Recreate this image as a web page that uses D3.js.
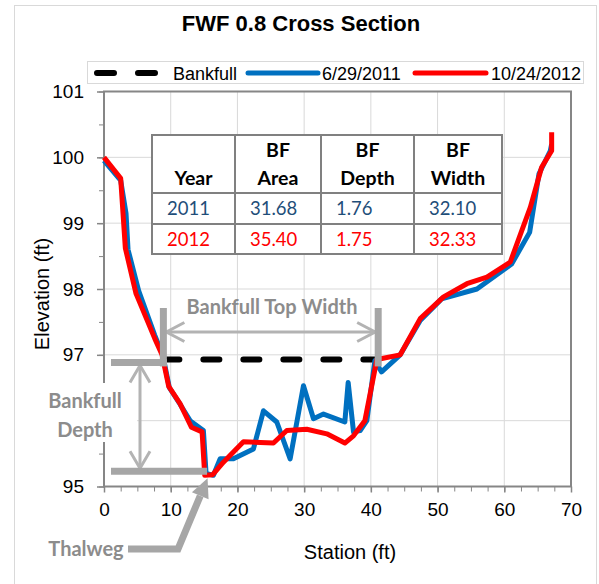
<!DOCTYPE html>
<html>
<head>
<meta charset="utf-8">
<script src="https://cdn.jsdelivr.net/npm/d3@7"></script>
<style>
  body { margin: 0; background: #fff; }
  svg { display: block; }
</style>
</head>
<body>
<svg id="chart" width="599" height="584"></svg>
<script>
// Survey of 6/29/2011
const stations2011 = [0, 2.5, 3.3, 3.6, 5.2, 7.6, 8.8, 9.8, 11.4, 12.9, 14.9, 15.3, 16.4, 17.4, 19.4, 22.4, 23.9, 25.9, 27.9, 29.9, 31.4, 32.9, 36.1, 36.6, 37.4, 38.4, 39.4, 40.6, 41.6, 44.4, 47.4, 50.6, 55.9, 61.1, 63.8, 65.2, 66.9, 67.1];
const elev2011     = [99.95, 99.65, 99.15, 98.6, 97.97, 97.3, 97.0, 96.5, 96.25, 96.0, 95.85, 95.2, 95.17, 95.42, 95.42, 95.57, 96.15, 95.98, 95.42, 96.53, 96.03, 96.1, 95.98, 96.58, 95.83, 95.85, 96.0, 96.91, 96.74, 97.0, 97.52, 97.85, 98.0, 98.38, 98.86, 99.75, 100.1, 100.2];

// Survey of 10/24/2012
const stations2012 = [0, 2.5, 3.2, 4.8, 7.6, 8.7, 9.7, 11.4, 13.1, 14.7, 15.1, 16.3, 17.9, 20.9, 25.4, 27.4, 30.4, 33.4, 36.1, 37.4, 39.1, 40.9, 44.4, 47.4, 50.9, 54.4, 57.4, 60.9, 63.9, 65.6, 67.1, 67.1];
const elev2012     = [100.0, 99.68, 98.62, 97.93, 97.25, 97.0, 96.52, 96.26, 95.9, 95.83, 95.17, 95.18, 95.37, 95.68, 95.66, 95.85, 95.87, 95.8, 95.66, 95.77, 96.0, 96.93, 97.0, 97.55, 97.88, 98.08, 98.18, 98.41, 99.24, 99.85, 100.1, 100.38];

// Bankfull stage and thalweg
const bankfullStations = [8.9, 41.1];
const bankfullElevation = 96.93;
const thalwegStation = 15.6;
const thalwegElevation = 95.17;

// Axes (the 96 label sits under the "Bankfull Depth" label box)
const xTicks = [0, 10, 20, 30, 40, 50, 60, 70];
const xTickLabels = ["0", "10", "20", "30", "40", "50", "60", "70"];
const yTicks = [95, 96, 97, 98, 99, 100, 101];
const yTickLabels = ["95", "", "97", "98", "99", "100", "101"];

// Summary table
const tableHeadTop = ["", "BF", "BF", "BF"];
const tableHeadBottom = ["Year", "Area", "Depth", "Width"];
const tableYears = ["2011", "2012"];
const tableArea = ["31.68", "35.40"];
const tableDepth = ["1.76", "1.75"];
const tableWidth = ["32.10", "32.33"];

// Legend
const legendLabels = ["Bankfull", "6/29/2011", "10/24/2012"];

const BLUE = "#0070C0", RED = "#FF0000", AXIS = "#868686", GRID = "#D9D9D9";
const ANNO = "#A6A6A6", ANNO_TEXT = "#8C8C8C", ARROW = "#B3B3B3";

const svg = d3.select("#chart");
const x = d3.scaleLinear().domain([0, 70]).range([104, 571]);
const y = d3.scaleLinear().domain([95, 101]).range([486.5, 91.5]);

// outer chart frame
svg.append("rect").attr("x", 14.5).attr("y", 5.5).attr("width", 582).attr("height", 600)
  .attr("fill", "#fff").attr("stroke", GRID).attr("stroke-width", 1);

// title
svg.append("text").attr("x", 301).attr("y", 31).attr("text-anchor", "middle")
  .attr("font-family", "Liberation Sans, Arial, sans-serif").attr("font-weight", "bold")
  .attr("font-size", 22).text("FWF 0.8 Cross Section");

// gridlines
const grid = svg.append("g");
grid.selectAll(".gx").data(xTicks.slice(1, -1)).join("line")
  .attr("x1", d => x(d)).attr("x2", d => x(d)).attr("y1", y(101)).attr("y2", y(95))
  .attr("stroke", GRID).attr("stroke-width", 1);
grid.selectAll(".gy").data(yTicks.slice(1, -1)).join("line")
  .attr("x1", x(0)).attr("x2", x(70)).attr("y1", d => y(d)).attr("y2", d => y(d))
  .attr("stroke", GRID).attr("stroke-width", 1);

// axes
const tickFont = g => g.selectAll("text")
  .attr("font-family", "Liberation Sans, Arial, sans-serif").attr("font-size", 19).attr("fill", "#000");

const xMinor = d3.range(0, 70.01, 2.5);
svg.append("g").attr("transform", `translate(0,${y(95)})`)
  .call(d3.axisBottom(x).tickValues(xMinor).tickSize(5).tickFormat(""))
  .call(g => g.select(".domain").remove())
  .call(g => g.selectAll("line").attr("stroke", AXIS).attr("stroke-width", 1));
svg.append("g").attr("transform", `translate(0,${y(95)})`)
  .call(d3.axisBottom(x).tickValues(xTicks).tickSize(6).tickPadding(10)
    .tickFormat((d, i) => xTickLabels[i]))
  .call(g => g.select(".domain").remove())
  .call(g => g.selectAll("line").attr("stroke", AXIS).attr("stroke-width", 1.5))
  .call(tickFont);

const yMinor = d3.range(95, 101.01, 0.5);
svg.append("g").attr("transform", `translate(${x(0)},0)`)
  .call(d3.axisLeft(y).tickValues(yMinor).tickSize(5).tickFormat(""))
  .call(g => g.select(".domain").remove())
  .call(g => g.selectAll("line").attr("stroke", AXIS).attr("stroke-width", 1));
svg.append("g").attr("transform", `translate(${x(0)},0)`)
  .call(d3.axisLeft(y).tickValues(yTicks).tickSize(7).tickPadding(13)
    .tickFormat((d, i) => yTickLabels[i]))
  .call(g => g.select(".domain").remove())
  .call(g => g.selectAll("line").attr("stroke", AXIS).attr("stroke-width", 1.5))
  .call(tickFont);

// plot frame
svg.append("rect").attr("x", x(0)).attr("y", y(101)).attr("width", x(70) - x(0)).attr("height", y(95) - y(101))
  .attr("fill", "none").attr("stroke", AXIS).attr("stroke-width", 2);

// axis titles
svg.append("text").attr("x", 350).attr("y", 559).attr("text-anchor", "middle")
  .attr("font-family", "Liberation Sans, Arial, sans-serif").attr("font-size", 20).text("Station (ft)");
svg.append("text").attr("transform", "translate(49,294) rotate(-90)").attr("text-anchor", "middle")
  .attr("font-family", "Liberation Sans, Arial, sans-serif").attr("font-size", 20).text("Elevation (ft)");

// series
const line = d3.line().x(d => x(d[0])).y(d => y(d[1]));
const pts2011 = stations2011.map((s, i) => [s, elev2011[i]]);
const pts2012 = stations2012.map((s, i) => [s, elev2012[i]]);

svg.append("path").datum(bankfullStations.map(s => [s, bankfullElevation])).attr("d", line)
  .attr("fill", "none").attr("stroke", "#000").attr("stroke-width", 6)
  .attr("stroke-linecap", "round").attr("stroke-dasharray", "16,24");
svg.append("path").datum(pts2011).attr("d", line)
  .attr("fill", "none").attr("stroke", BLUE).attr("stroke-width", 5).attr("stroke-linejoin", "round");
svg.append("path").datum(pts2012).attr("d", line)
  .attr("fill", "none").attr("stroke", RED).attr("stroke-width", 5).attr("stroke-linejoin", "round");

// summary table
const colX = [152, 235, 321, 414, 502];
const rowY = [135, 193, 224, 254];
const tbl = svg.append("g");
tbl.append("rect").attr("x", colX[0]).attr("y", rowY[0]).attr("width", colX[4] - colX[0])
  .attr("height", rowY[3] - rowY[0]).attr("fill", "#fff");
const tFont = "Lato, Carlito, Calibri, sans-serif";
tableHeadBottom.forEach((h, i) => {
  const cx = (colX[i] + colX[i + 1]) / 2;
  tbl.append("text").attr("x", cx).attr("y", 157).attr("text-anchor", "middle")
    .attr("font-family", tFont).attr("font-weight", "bold").attr("font-size", 19.5).text(tableHeadTop[i]);
  tbl.append("text").attr("x", cx).attr("y", 185).attr("text-anchor", "middle")
    .attr("font-family", tFont).attr("font-weight", "bold").attr("font-size", 19.5).text(h);
});
const rowColors = ["#1F4E79", RED];
[tableYears, tableArea, tableDepth, tableWidth].forEach((col, i) => {
  col.forEach((v, r) => {
    tbl.append("text").attr("x", colX[i] + 15).attr("y", rowY[r + 1] + 22)
      .attr("font-family", tFont).attr("font-size", 18.5).attr("fill", rowColors[r]).text(v);
  });
});
colX.forEach(cx => tbl.append("line").attr("x1", cx).attr("x2", cx).attr("y1", rowY[0]).attr("y2", rowY[3])
  .attr("stroke", "#808080").attr("stroke-width", 2));
rowY.forEach(ry => tbl.append("line").attr("x1", colX[0] - 1).attr("x2", colX[4] + 1).attr("y1", ry).attr("y2", ry)
  .attr("stroke", "#808080").attr("stroke-width", 2));

// legend
const lg = svg.append("g");
lg.append("rect").attr("x", 87.5).attr("y", 61.5).attr("width", 496).attr("height", 22)
  .attr("fill", "#fff").attr("stroke", GRID);
lg.append("line").attr("x1", 97).attr("x2", 157).attr("y1", 73).attr("y2", 73)
  .attr("stroke", "#000").attr("stroke-width", 6).attr("stroke-linecap", "round").attr("stroke-dasharray", "17,24");
lg.append("line").attr("x1", 248).attr("x2", 318).attr("y1", 73).attr("y2", 73)
  .attr("stroke", BLUE).attr("stroke-width", 5).attr("stroke-linecap", "round");
lg.append("line").attr("x1", 415).attr("x2", 486).attr("y1", 73).attr("y2", 73)
  .attr("stroke", RED).attr("stroke-width", 5).attr("stroke-linecap", "round");
[[173, legendLabels[0]], [322, legendLabels[1]], [491, legendLabels[2]]].forEach(([lx, t]) =>
  lg.append("text").attr("x", lx).attr("y", 79.5).attr("font-family", "Liberation Sans, Arial, sans-serif")
    .attr("font-size", 18).text(t));

// annotations
const an = svg.append("g");
const xl = x(bankfullStations[0]), xr = x(bankfullStations[1]);
const yb = y(bankfullElevation) + 3, yt = y(thalwegElevation) - 4;

// white label box for bankfull depth
an.append("rect").attr("x", 44).attr("y", 383).attr("width", 93).attr("height", 59).attr("fill", "#fff");

function chevron(tipX, tipY, dx, dy) {
  an.append("path").attr("d", `M${tipX + dx},${tipY - dy}L${tipX},${tipY}L${tipX + dx},${tipY + dy}`)
    .attr("fill", "none").attr("stroke", ARROW).attr("stroke-width", 3);
}
function chevronV(tipX, tipY, dx, dy) {
  an.append("path").attr("d", `M${tipX - dx},${tipY + dy}L${tipX},${tipY}L${tipX + dx},${tipY + dy}`)
    .attr("fill", "none").attr("stroke", ARROW).attr("stroke-width", 3);
}

// top width arrow
an.append("line").attr("x1", xl + 3).attr("x2", xr - 3).attr("y1", 332).attr("y2", 332)
  .attr("stroke", ARROW).attr("stroke-width", 3);
chevron(xl + 3, 332, 18, 9.5);
chevron(xr - 3, 332, -18, 9.5);

// depth arrow
an.append("line").attr("x1", 140).attr("x2", 140).attr("y1", yb + 3).attr("y2", yt - 3)
  .attr("stroke", ARROW).attr("stroke-width", 3);
chevronV(140, yb + 3, 10, 17);
chevronV(140, yt - 3, 10, -17);

// bars
an.append("line").attr("x1", xl).attr("x2", xl).attr("y1", 308).attr("y2", yb + 4)
  .attr("stroke", ANNO).attr("stroke-width", 7);
an.append("line").attr("x1", xr).attr("x2", xr).attr("y1", 308).attr("y2", yb + 4)
  .attr("stroke", ANNO).attr("stroke-width", 7);
an.append("line").attr("x1", 111).attr("x2", xl + 3.5).attr("y1", yb).attr("y2", yb)
  .attr("stroke", ANNO).attr("stroke-width", 7);
an.append("line").attr("x1", 111).attr("x2", x(thalwegStation) - 1).attr("y1", yt).attr("y2", yt)
  .attr("stroke", ANNO).attr("stroke-width", 7);

// thalweg pointer
const tipX = x(thalwegStation) - 0.5, tipY = y(thalwegElevation) + 3;
const elbow = [178, 549];
const ang = Math.atan2(tipY - elbow[1], tipX - elbow[0]);
const headLen = 19, headHalf = 9;
const baseX = tipX - headLen * Math.cos(ang), baseY = tipY - headLen * Math.sin(ang);
an.append("path").attr("d", `M128,549L${elbow[0]},${elbow[1]}L${baseX},${baseY}`)
  .attr("fill", "none").attr("stroke", ANNO).attr("stroke-width", 7);
an.append("path")
  .attr("d", `M${tipX},${tipY}L${baseX + headHalf * Math.sin(ang)},${baseY - headHalf * Math.cos(ang)}L${baseX - headHalf * Math.sin(ang)},${baseY + headHalf * Math.cos(ang)}Z`)
  .attr("fill", ANNO);

const annoText = (tx, ty, t) => an.append("text").attr("x", tx).attr("y", ty).attr("text-anchor", "middle")
  .attr("font-family", tFont).attr("font-weight", "bold").attr("font-size", 20).attr("fill", ANNO_TEXT).text(t);
annoText(272, 314, "Bankfull Top Width");
annoText(85, 408, "Bankfull");
annoText(85, 437, "Depth");
annoText(86, 556, "Thalweg");
</script>
</body>
</html>
